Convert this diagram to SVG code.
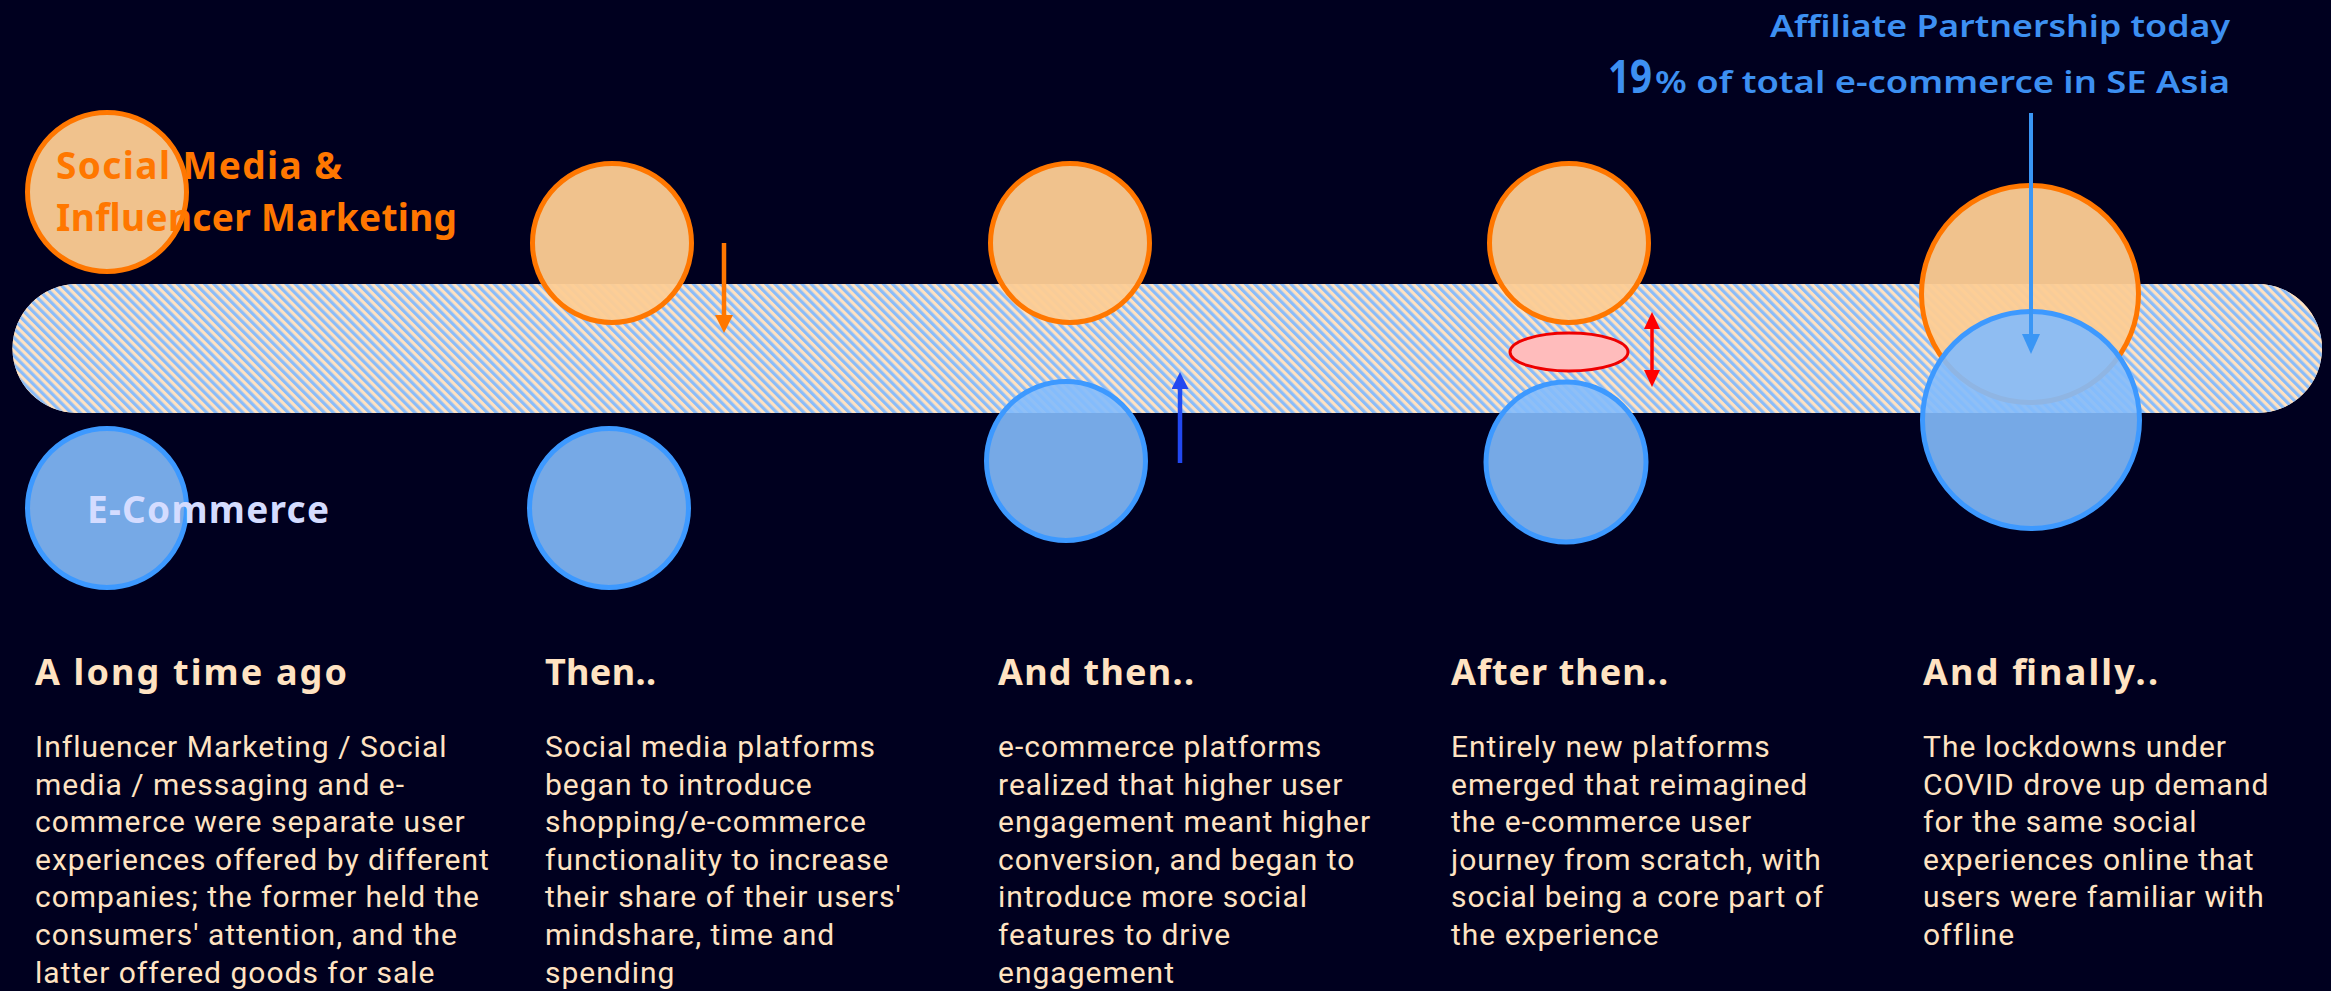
<svg xmlns="http://www.w3.org/2000/svg" width="2331" height="991" viewBox="0 0 2331 991">
  <defs>
    <pattern id="stripes" width="6.4" height="6.4" patternUnits="userSpaceOnUse" patternTransform="rotate(-45)">
      <rect x="-1" y="-1" width="8.4" height="8.4" fill="#ffe2c2"/>
      <rect x="0" y="-1" width="3.2" height="8.4" fill="#8bbcf8"/>
    </pattern>
    <marker id="ahOrange" viewBox="0 0 18 18" refX="0" refY="9" markerWidth="18" markerHeight="18" markerUnits="userSpaceOnUse" orient="auto">
      <path d="M0,0 L18,9 L0,18 z" fill="#ff7700"/>
    </marker>
    <marker id="ahBlueDark" viewBox="0 0 18 18" refX="0" refY="9" markerWidth="17" markerHeight="17" markerUnits="userSpaceOnUse" orient="auto">
      <path d="M0,0 L18,9 L0,18 z" fill="#2248f0"/>
    </marker>
    <marker id="ahBlue" viewBox="0 0 20 18" refX="0" refY="9" markerWidth="20" markerHeight="18" markerUnits="userSpaceOnUse" orient="auto">
      <path d="M0,0 L20,9 L0,18 z" fill="#3a96f5"/>
    </marker>
    <marker id="ahRed" viewBox="0 0 17 16" refX="0" refY="8" markerWidth="17" markerHeight="16" markerUnits="userSpaceOnUse" orient="auto-start-reverse">
      <path d="M0,0 L17,8 L0,16 z" fill="#ff0000"/>
    </marker>
  </defs>
  <style>
    .bg { fill: #00001f; }
    .social { fill: #fdcc94; fill-opacity: 0.95; stroke: #ff7700; stroke-width: 5; }
    .ecom { fill: #83bbfc; fill-opacity: 0.9; stroke: #3d99ff; stroke-width: 5; }
    .head { font-family: "Noto Sans", "DejaVu Sans", sans-serif; font-weight: 700; font-size: 36px; fill: #ffe3c2; }
    .body { font-family: Roboto, "Liberation Sans", sans-serif; font-size: 30px; letter-spacing: 1px; fill: #ffe3c2; }
    .label { font-family: "Noto Sans", "DejaVu Sans", sans-serif; font-weight: 700; font-size: 37px; }
    .aff { font-family: "Noto Sans", "DejaVu Sans", sans-serif; font-weight: 600; font-size: 30px; fill: #3d90f2; }
    .big { font-size: 46px; font-weight: 700; }
  </style>
  <rect class="bg" x="0" y="0" width="2331" height="991"/>

  <g id="band">
    <rect x="12.5" y="284" width="2309.5" height="129" rx="64.5" ry="64.5" fill="#ffe2c2"/>
    <rect x="12.5" y="284" width="2309.5" height="129" rx="64.5" ry="64.5" fill="url(#stripes)"/>
  </g>

  <g id="stage1-social">
    <circle class="social" cx="107" cy="192" r="79.5"/>
  </g>
  <g id="stage1-ecommerce">
    <circle class="ecom" cx="107" cy="508" r="79.5"/>
  </g>
  <g id="label-social">
    <text class="label" fill="#ff7700" x="56" y="179" textLength="286" lengthAdjust="spacing">Social Media &amp;</text>
    <text class="label" fill="#ff7700" x="56" y="231" textLength="401" lengthAdjust="spacing">Influencer Marketing</text>
  </g>
  <g id="label-ecommerce">
    <text class="label" fill="#d4dcff" x="87" y="523" textLength="242" lengthAdjust="spacing">E-Commerce</text>
  </g>

  <g id="stage2-social">
    <circle class="social" cx="612" cy="243" r="79.5"/>
  </g>
  <g id="stage2-ecommerce">
    <circle class="ecom" cx="609" cy="508" r="79.5"/>
  </g>

  <g id="stage3-social">
    <circle class="social" cx="1070" cy="243" r="79.5"/>
  </g>
  <g id="stage3-ecommerce">
    <circle class="ecom" cx="1066" cy="461" r="79.5"/>
  </g>

  <g id="stage4-social">
    <circle class="social" cx="1569" cy="243" r="79.5"/>
  </g>
  <g id="stage4-overlap">
    <ellipse cx="1569" cy="352" rx="59" ry="19" fill="#ffbcbc" stroke="#ee0000" stroke-width="3"/>
  </g>
  <g id="stage4-ecommerce">
    <circle class="ecom" cx="1566" cy="462" r="80"/>
  </g>

  <g id="stage5-social">
    <circle class="social" cx="2030" cy="294" r="108.5"/>
  </g>
  <g id="stage5-ecommerce">
    <circle class="ecom" cx="2031" cy="420" r="108.5"/>
  </g>

  <g id="connectors" fill="none">
    <line x1="724" y1="243" x2="724" y2="315" stroke="#ff7700" stroke-width="4.5" marker-end="url(#ahOrange)"/>
    <line x1="1180" y1="463" x2="1180" y2="389" stroke="#2248f0" stroke-width="4.5" marker-end="url(#ahBlueDark)"/>
    <line x1="1652" y1="329" x2="1652" y2="370" stroke="#ff0000" stroke-width="3.5" marker-start="url(#ahRed)" marker-end="url(#ahRed)"/>
    <line x1="2031" y1="113" x2="2031" y2="334" stroke="#3a96f5" stroke-width="4" marker-end="url(#ahBlue)"/>
  </g>

  <g id="affiliate-label">
    <text class="aff" x="1770" y="37" textLength="460" lengthAdjust="spacingAndGlyphs">Affiliate Partnership today</text>
    <text class="aff big" x="1608" y="93" textLength="44" lengthAdjust="spacingAndGlyphs">19</text>
    <text class="aff" x="1655" y="93" textLength="575" lengthAdjust="spacingAndGlyphs">% of total e-commerce in SE Asia</text>
  </g>

  <g id="col1">
    <text class="head" x="35" y="685" textLength="312" lengthAdjust="spacing">A long time ago</text>
    <text class="body" x="35">
      <tspan x="35" y="757">Influencer Marketing / Social</tspan>
      <tspan x="35" y="795">media / messaging and e-</tspan>
      <tspan x="35" y="832">commerce were separate user</tspan>
      <tspan x="35" y="870">experiences offered by different</tspan>
      <tspan x="35" y="907">companies; the former held the</tspan>
      <tspan x="35" y="945">consumers' attention, and the</tspan>
      <tspan x="35" y="983">latter offered goods for sale</tspan>
    </text>
  </g>

  <g id="col2">
    <text class="head" x="545" y="685" textLength="111" lengthAdjust="spacing">Then..</text>
    <text class="body" x="545">
      <tspan x="545" y="757">Social media platforms</tspan>
      <tspan x="545" y="795">began to introduce</tspan>
      <tspan x="545" y="832">shopping/e-commerce</tspan>
      <tspan x="545" y="870">functionality to increase</tspan>
      <tspan x="545" y="907">their share of their users'</tspan>
      <tspan x="545" y="945">mindshare, time and</tspan>
      <tspan x="545" y="983">spending</tspan>
    </text>
  </g>

  <g id="col3">
    <text class="head" x="998" y="685" textLength="196" lengthAdjust="spacing">And then..</text>
    <text class="body" x="998">
      <tspan x="998" y="757">e-commerce platforms</tspan>
      <tspan x="998" y="795">realized that higher user</tspan>
      <tspan x="998" y="832">engagement meant higher</tspan>
      <tspan x="998" y="870">conversion, and began to</tspan>
      <tspan x="998" y="907">introduce more social</tspan>
      <tspan x="998" y="945">features to drive</tspan>
      <tspan x="998" y="983">engagement</tspan>
    </text>
  </g>

  <g id="col4">
    <text class="head" x="1451" y="685" textLength="217" lengthAdjust="spacing">After then..</text>
    <text class="body" x="1451">
      <tspan x="1451" y="757">Entirely new platforms</tspan>
      <tspan x="1451" y="795">emerged that reimagined</tspan>
      <tspan x="1451" y="832">the e-commerce user</tspan>
      <tspan x="1451" y="870">journey from scratch, with</tspan>
      <tspan x="1451" y="907">social being a core part of</tspan>
      <tspan x="1451" y="945">the experience</tspan>
    </text>
  </g>

  <g id="col5">
    <text class="head" x="1923" y="685" textLength="235" lengthAdjust="spacing">And finally..</text>
    <text class="body" x="1923">
      <tspan x="1923" y="757">The lockdowns under</tspan>
      <tspan x="1923" y="795">COVID drove up demand</tspan>
      <tspan x="1923" y="832">for the same social</tspan>
      <tspan x="1923" y="870">experiences online that</tspan>
      <tspan x="1923" y="907">users were familiar with</tspan>
      <tspan x="1923" y="945">offline</tspan>
    </text>
  </g>
</svg>
